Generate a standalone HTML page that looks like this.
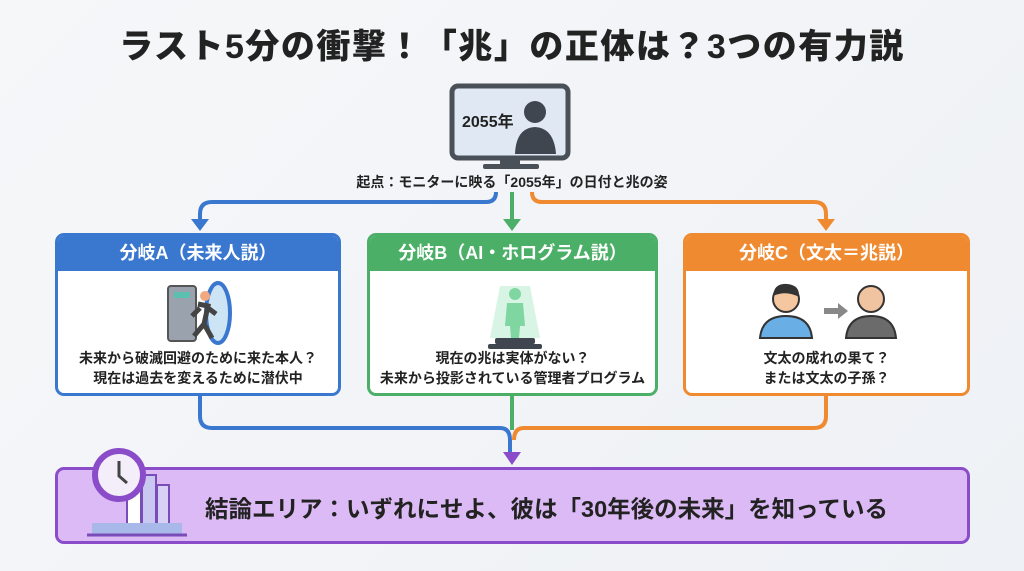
<!DOCTYPE html>
<html><head><meta charset="utf-8"><style>
*{margin:0;padding:0;box-sizing:border-box}
body{width:1024px;height:571px;overflow:hidden;background:linear-gradient(135deg,#f6f7f9,#eef1f5);font-family:"Liberation Sans","Noto Sans CJK JP",sans-serif;position:relative;color:#222}
.t{position:absolute;left:0;width:1024px;text-align:center;top:19px;font-size:34px;font-weight:900;letter-spacing:1.5px}
.box{position:absolute;top:233px;height:163px;background:#fff;border:3px solid;border-radius:9px;overflow:hidden}
.hd{height:35px;color:#fff;font-size:18px;text-align:center;line-height:35px;font-weight:bold}
.tx{position:absolute;left:0;right:0;top:112px;text-align:center;font-size:14px;font-weight:bold;line-height:20px}
.lab{position:absolute;left:0;width:1024px;text-align:center;top:172px;font-size:14px;font-weight:bold}
.con{position:absolute;left:55px;top:467px;width:915px;height:77px;background:#dcbaf5;border:3px solid #8a4cc8;border-radius:9px}
.ct{position:absolute;left:205px;top:490px;font-size:23.5px;font-weight:bold}
</style></head><body>
<div class="t">ラスト5分の衝撃！「兆」の正体は？3つの有力説</div>
<svg width="1024" height="571" style="position:absolute;left:0;top:0">
<rect x="452" y="86" width="116" height="72" rx="6" fill="#dfe8f3" stroke="#4a5058" stroke-width="5"/>
<rect x="500" y="158" width="20" height="8" fill="#4a5058"/><rect x="483" y="164" width="56" height="5" rx="2" fill="#4a5058"/>
<circle cx="535" cy="112" r="11" fill="#3f4650"/><path d="M515 154 Q516 128 535 127 Q554 128 556 154Z" fill="#3f4650"/>
<text x="462" y="127" font-size="16" font-weight="bold" fill="#222" font-family="Liberation Sans,Noto Sans CJK JP,sans-serif">2055年</text>
<g fill="none" stroke-width="4">
<path d="M496 192 Q496 202 486 202 L212 202 Q200 202 200 214 L200 222" stroke="#3a78d0"/>
<path d="M512 192 L512 222" stroke="#4caf68"/>
<path d="M532 192 Q532 202 542 202 L814 202 Q826 202 826 214 L826 222" stroke="#f08a30"/>
<path d="M200 396 L200 416 Q200 428 212 428 L500 428 Q510 428 510 440 L510 452" stroke="#3a78d0"/>
<path d="M826 396 L826 416 Q826 428 814 428 L524 428 Q514 428 514 440" stroke="#f08a30"/>
<path d="M512 396 L512 430" stroke="#4caf68"/>
</g>
<path d="M191 219 L209 219 L200 231Z" fill="#3a78d0"/>
<path d="M503 219 L521 219 L512 231Z" fill="#4caf68"/>
<path d="M817 219 L835 219 L826 231Z" fill="#f08a30"/>
<path d="M503 452 L521 452 L512 465Z" fill="#8a4cc8"/>
</svg>
<div class="lab">起点：モニターに映る「2055年」の日付と兆の姿</div>
<div class="box" style="left:55px;width:286px;border-color:#3a78d0"><div class="hd" style="background:#3a78d0">分岐A（未来人説）</div>
<svg width="286" height="80" style="position:absolute;left:0;top:40px"><rect x="110" y="10" width="28" height="55" rx="3" fill="#9aa3ad" stroke="#555" stroke-width="2"/><rect x="116" y="16" width="16" height="6" fill="#5bc0b0"/><ellipse cx="160" cy="37" rx="12" ry="30" fill="#cde4f5" stroke="#3a78d0" stroke-width="4"/><circle cx="147" cy="20" r="5" fill="#f2a880"/><path d="M140 28 L150 30 L146 48 L154 62 M146 48 L136 60 M142 32 L134 40 M150 32 L158 38" stroke="#444" stroke-width="5" fill="none"/></svg>
<div class="tx">未来から破滅回避のために来た本人？<br>現在は過去を変えるために潜伏中</div></div>
<div class="box" style="left:367px;width:291px;border-color:#4caf68"><div class="hd" style="background:#4caf68">分岐B（AI・ホログラム説）</div>
<svg width="291" height="80" style="position:absolute;left:0;top:40px"><path d="M130 10 L160 10 L170 62 L120 62Z" fill="#c8f0d8" opacity=".7"/><circle cx="145" cy="18" r="6" fill="#7fd6a0"/><path d="M137 27 L153 27 L155 50 L150 50 L149 62 L141 62 L140 50 L135 50Z" fill="#7fd6a0"/><rect x="125" y="62" width="40" height="6" rx="2" fill="#3f4650"/><rect x="118" y="68" width="54" height="5" rx="2" fill="#3f4650"/></svg>
<div class="tx">現在の兆は実体がない？<br>未来から投影されている管理者プログラム</div></div>
<div class="box" style="left:683px;width:287px;border-color:#f08a30"><div class="hd" style="background:#f08a30">分岐C（文太＝兆説）</div>
<svg width="287" height="80" style="position:absolute;left:0;top:40px"><circle cx="100" cy="23" r="13" fill="#f5c7a0" stroke="#333" stroke-width="2"/><path d="M87 20 Q88 7 101 8 Q114 9 113 21 Q100 14 87 20Z" fill="#333"/><path d="M74 62 Q76 40 100 40 Q124 40 126 62Z" fill="#6aaee6" stroke="#333" stroke-width="2"/><path d="M138 32 L152 32 L152 27 L162 35 L152 43 L152 38 L138 38Z" fill="#888"/><circle cx="185" cy="23" r="13" fill="#f0c4a0" stroke="#333" stroke-width="2"/><path d="M160 62 Q162 40 185 40 Q208 40 210 62Z" fill="#6b6b6b" stroke="#333" stroke-width="2"/></svg>
<div class="tx">文太の成れの果て？<br>または文太の子孫？</div></div>
<div class="con"></div>
<svg width="120" height="100" style="position:absolute;left:82px;top:445px"><rect x="60" y="30" width="14" height="60" fill="#c9c8f0" stroke="#7a4cb8" stroke-width="2"/><rect x="75" y="40" width="12" height="50" fill="#d8d0f5" stroke="#7a4cb8" stroke-width="2"/><rect x="45" y="45" width="14" height="45" fill="#fff" stroke="#7a4cb8" stroke-width="2"/><circle cx="37" cy="30" r="24" fill="#f3eefa" stroke="#8a4cc8" stroke-width="6"/><path d="M37 16 L37 31 L45 38" stroke="#444" stroke-width="3" fill="none"/><rect x="10" y="78" width="90" height="12" fill="#a8b8e8"/><path d="M5 90 L105 90" stroke="#7a4cb8" stroke-width="3"/></svg>
<div class="ct">結論エリア：いずれにせよ、彼は「30年後の未来」を知っている</div>
</body></html>
